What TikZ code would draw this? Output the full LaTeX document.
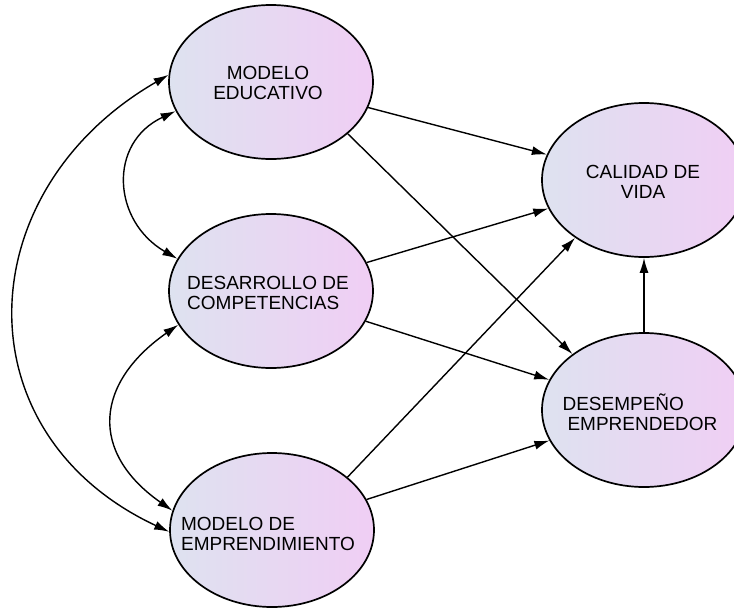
\documentclass[tikz,border=0pt]{standalone}
\usepackage[rgb]{xcolor}
\usepackage{fontspec}
\setmainfont{Liberation Sans}
\usepackage{tikz}
\usetikzlibrary{shapes.geometric,arrows.meta}

\definecolor{ellleft}{RGB}{222,226,240}
\definecolor{ellright}{RGB}{240,206,244}

\tikzset{
 construct/.style={ellipse, draw=black, line width=1.7pt, minimum width=204pt,
  minimum height=154pt, inner sep=0pt, left color=ellleft, right color=ellright},
 lbl/.style={font=\fontsize{19}{19.5}\selectfont, align=#1, inner sep=0pt},
 lbl/.default=center,
 link/.style={-{Latex[length=15pt,width=9pt]}, line width=1.4pt},
 covar/.style={{Latex[length=15pt,width=9pt]}-{Latex[length=15pt,width=9pt]}, line width=1.4pt}
}

\begin{document}
\begin{tikzpicture}[x=1pt, y=1pt]

\useasboundingbox (0,0) rectangle (734,-608);
\clip (0,0) rectangle (734,-608);

% constructs of the model
 \node[construct] (me)  at (271,-82)  {};
 \node[construct] (dc)  at (271,-291) {};
 \node[construct] (mem) at (272,-530) {};
 \node[construct] (cv)  at (644,-180) {};
 \node[construct] (de)  at (644,-410) {};

 \node[lbl] (metxt)  at (268,-83)  {MODELO\\EDUCATIVO};
 \node[lbl=left] (dctxt)  at (268,-293) {DESARROLLO DE\\COMPETENCIAS};
 \node[lbl=left] (memtxt) at (268,-534) {MODELO DE\\EMPRENDIMIENTO};
 \node[lbl] (cvtxt)  at (643,-182) {CALIDAD DE\\VIDA};
 \node[lbl=left] (detxt)  at (640,-412) {DESEMPEÑO\\\hspace*{5pt}EMPRENDEDOR};

% direct paths
 \foreach \a/\b in {me/cv, dc/cv, dc/de, mem/de, de/cv}
  {
  \draw[link] (\a) -- (\b);
  }
 \draw[link] (me.-34) -- (de.142);
 \draw[link] (mem.35) -- (cv.220);

% correlations
 \draw[covar] (me.197) to[out=205, in=150, looseness=1.3] (dc.161);
 \draw[covar] (dc.200) to[out=215, in=145, looseness=1.4] (mem.169);
 \draw[covar] (me.176) to[out=210, in=155, looseness=1.3] (mem.181);

\end{tikzpicture}
\end{document}
